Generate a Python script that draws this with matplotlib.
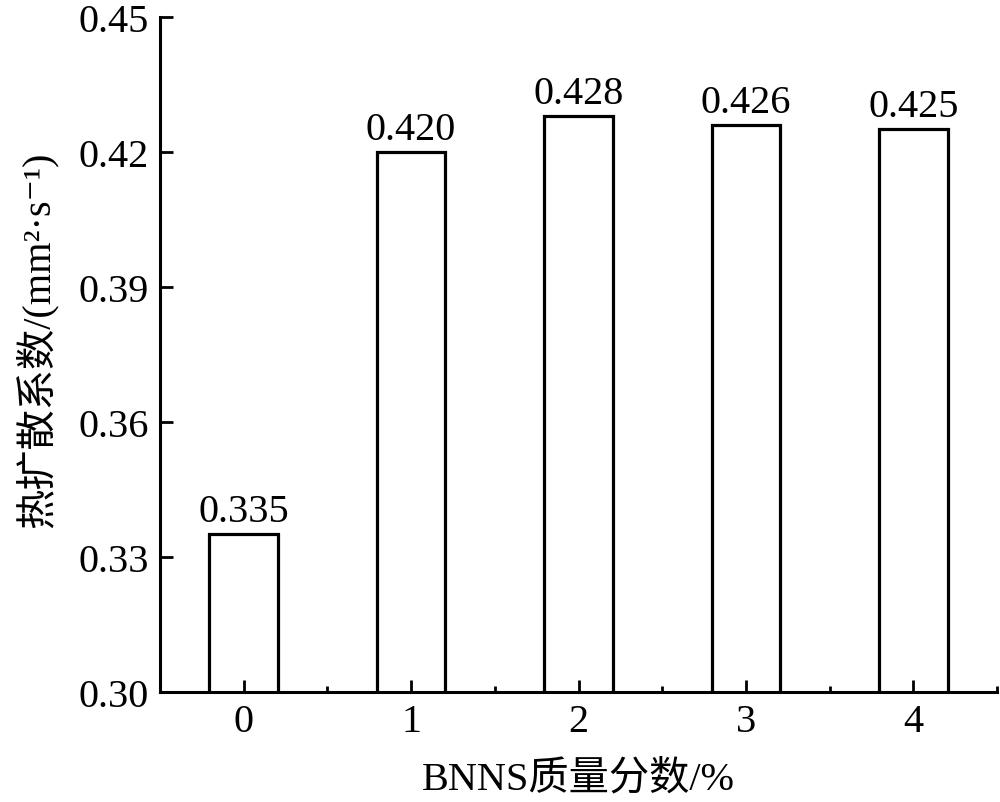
import matplotlib

matplotlib.use("Agg")
import matplotlib.pyplot as plt
from matplotlib.ticker import MultipleLocator

# data
categories = [0, 1, 2, 3, 4]
diffusivity = [0.335, 0.420, 0.428, 0.426, 0.425]
bar_labels = ["0.335", "0.420", "0.428", "0.426", "0.425"]

# Times-like latin, CJK falls through to Noto, odd glyphs to DejaVu
plt.rcParams["font.family"] = ["Liberation Serif", "Noto Sans CJK SC", "DejaVu Serif"]

fig = plt.figure(figsize=(10, 8.03), dpi=100)
ax = fig.add_axes([0.16, 0.137, 0.837, 0.841])

ax.bar(categories, diffusivity, width=0.41,
       facecolor="white", edgecolor="black", linewidth=2.3)

for x, y, s in zip(categories, diffusivity, bar_labels):
    ax.annotate(s, (x, y), xytext=(0, 3), textcoords="offset points",
                ha="center", va="bottom", fontsize=29)

ax.set_xlim(-0.5, 4.5)
ax.set_ylim(0.30, 0.45)
ax.set_xticks(categories)
ax.xaxis.set_minor_locator(MultipleLocator(0.5))
ax.yaxis.set_major_locator(MultipleLocator(0.03))
ax.set_yticklabels([f"{v:.2f}" for v in ax.get_yticks()])

for side in ("top", "right"):
    ax.spines[side].set_visible(False)
for side in ("left", "bottom"):
    ax.spines[side].set_linewidth(2.2)

ax.tick_params(axis="both", which="major", direction="in", length=9, width=2,
               labelsize=29)
ax.tick_params(axis="x", which="minor", direction="in", length=4.5, width=2)
ax.tick_params(axis="x", which="major", pad=8)
ax.tick_params(axis="y", which="major", pad=8)

ax.set_xlabel("BNNS质量分数/%", fontsize=29, labelpad=14)
ax.set_ylabel("热扩散系数/(mm²·s⁻¹)", fontsize=29)
ax.yaxis.set_label_coords(-0.122, 0.523)

fig.savefig("out.png", dpi=100)
